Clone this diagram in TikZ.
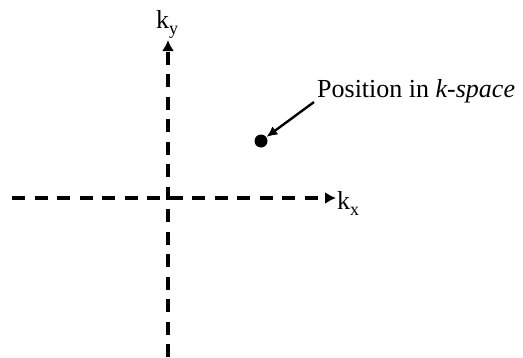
\documentclass[tikz,border=0pt]{standalone}
\usepackage{fontspec}
\setmainfont{Liberation Serif}
\usetikzlibrary{arrows.meta}
\newcommand{\lowsub}[1]{\raisebox{-6pt}{\fontsize{18}{20}\selectfont #1}}
\begin{document}
\begin{tikzpicture}[x=1pt,y=-1pt,
  axis/.style={line width=3.2pt,dash pattern=on 13pt off 9.5pt,-{Latex[length=11pt,width=12pt]}},
  lbl/.style={font=\fontsize{26}{28}\selectfont,inner sep=0pt}]
\useasboundingbox (0,0) rectangle (523,357);
\coordinate (xs) at (12,198);
\coordinate (xe) at (336,198);
\coordinate (ys) at (168,357);
\coordinate (ye) at (168,40);
\draw[axis] (xs) -- (xe);
\draw[axis] (ys) -- (ye);
\node[lbl,anchor=base west] (kx) at (337,209) {k\lowsub{x}};
\node[lbl,anchor=base west] (ky) at (156,28) {k\lowsub{y}};
\node[circle,fill=black,inner sep=0pt,minimum size=13pt] (dot) at (261,141) {};
\node[lbl,anchor=base west] (pos) at (317,97) {Position in \textit{k-space}};
\coordinate (as) at (314,102);
\draw[line width=2.4pt,-{Latex[length=11pt,width=10pt]}] (as) -- (dot);
\end{tikzpicture}
\end{document}
